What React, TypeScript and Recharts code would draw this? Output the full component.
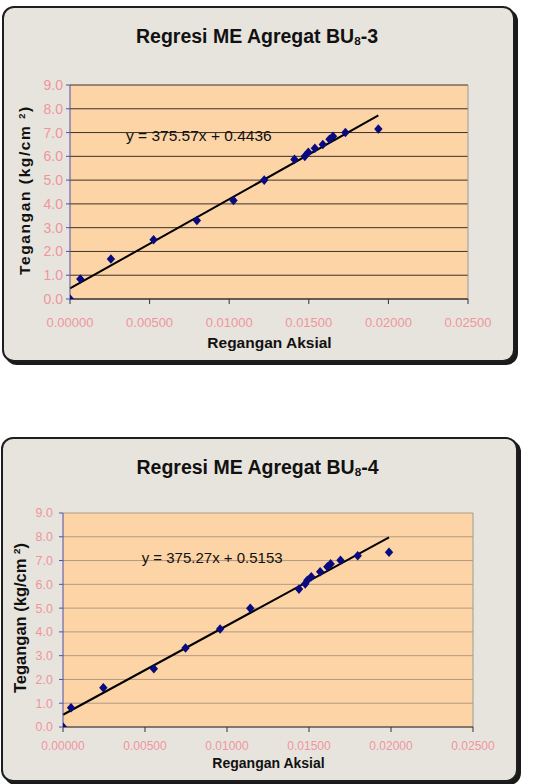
import React from 'react';
import { ScatterChart, Scatter, XAxis, YAxis, CartesianGrid, ReferenceLine } from 'recharts';

// ---- Data: chart 1 (BU8-3) ----
const strain1 = [0, 0.00065, 0.00257, 0.00525, 0.00797, 0.01027, 0.0122, 0.0141, 0.01475, 0.01497, 0.01538, 0.01588, 0.0163, 0.01652, 0.0173, 0.01937];
const stress1 = [0, 0.84, 1.68, 2.49, 3.30, 4.14, 5.00, 5.87, 6.00, 6.17, 6.34, 6.50, 6.72, 6.84, 7.00, 7.15];
const slope1 = 375.57;
const intercept1 = 0.4436;

// ---- Data: chart 2 (BU8-4) ----
const strain2 = [0, 0.00049, 0.00246, 0.00554, 0.00747, 0.00958, 0.01142, 0.01439, 0.01477, 0.0149, 0.01514, 0.01568, 0.01612, 0.01632, 0.01692, 0.01797, 0.01988];
const stress2 = [0, 0.81, 1.65, 2.45, 3.32, 4.12, 4.99, 5.80, 6.02, 6.17, 6.32, 6.53, 6.74, 6.86, 7.01, 7.20, 7.35];
const slope2 = 375.27;
const intercept2 = 0.5153;

// ---- Axis ticks ----
const xTicks = [0, 0.005, 0.01, 0.015, 0.02, 0.025];
const yTicks = [0, 1, 2, 3, 4, 5, 6, 7, 8, 9];

const FONT = '"Liberation Sans", Arial, sans-serif';
const PINK = '#f0959d';

const Diamond = (props: any) => {
  const { cx, cy } = props;
  if (cx == null || cy == null) return null;
  return <path d={`M${cx},${cy - 4.8}L${cx + 4.2},${cy}L${cx},${cy + 4.8}L${cx - 4.2},${cy}Z`} fill="#0a0a80" />;
};

type Cfg = {
  left: number; top: number; w: number; h: number;
  margin: { top: number; right: number; bottom: number; left: number };
  yAxisWidth: number; yTickMargin: number; xTickMargin: number;
  xTickFont: number; yTickFont: number;
  gridColor: string;
  titleSuffix: string; titleY: number; titleX: number; titleFont: number;
  yTitleX: number; yTitleY: number; yTitleFont: number; yTitleSpacing: number;
  xTitleX: number; xTitleY: number; xTitleFont: number;
  eqX: number; eqY: number; eqFont: number; eqText: string;
  strain: number[]; stress: number[]; slope: number; intercept: number;
};

const Panel = ({ c }: { c: Cfg }) => {
  const data = c.strain.map((x, i) => ({ x, y: c.stress[i] }));
  const xEnd = Math.max(...c.strain);
  return (
    <div style={{ position: 'absolute', left: c.left, top: c.top, width: c.w, height: c.h }}>
      <div style={{
        position: 'absolute', left: 0, top: 0, width: c.w, height: c.h, boxSizing: 'border-box',
        background: '#e7e4dd', border: '2px solid #1e1e1e', borderRadius: 12,
        boxShadow: '3px 3px 0px #1a1a1a',
      }} />
      <div style={{ position: 'absolute', left: 0, top: 0 }}>
        <ScatterChart width={c.w} height={c.h} margin={c.margin}>
          <CartesianGrid vertical={false} stroke={c.gridColor} fill="#fdd4a6" fillOpacity={1} />
          <XAxis
            type="number" dataKey="x" domain={[0, 0.025]} ticks={xTicks}
            tickFormatter={(v: number) => v.toFixed(5)}
            axisLine={{ stroke: '#333' }} tickLine={{ stroke: '#333' }} tickSize={5}
            tickMargin={c.xTickMargin} height={30}
            tick={{ fill: PINK, fontSize: c.xTickFont, fontFamily: FONT }}
            allowDataOverflow
          />
          <YAxis
            type="number" dataKey="y" domain={[0, 9]} ticks={yTicks}
            tickFormatter={(v: number) => v.toFixed(1)}
            axisLine={{ stroke: '#5050a8' }} tickLine={{ stroke: '#5050a8' }} tickSize={4}
            tickMargin={c.yTickMargin} width={c.yAxisWidth}
            tick={{ fill: PINK, fontSize: c.yTickFont, fontFamily: FONT }}
            allowDataOverflow
          />
          <ReferenceLine x={0.025} stroke="#9a9a9a" strokeWidth={1} />
          <ReferenceLine
            segment={[{ x: 0, y: c.intercept }, { x: xEnd, y: c.slope * xEnd + c.intercept }]}
            stroke="#000" strokeWidth={2} ifOverflow="visible"
          />
          <Scatter data={data} shape={Diamond} isAnimationActive={false} />
        </ScatterChart>
      </div>
      <div style={{
        position: 'absolute', left: c.titleX, top: c.titleY, transform: 'translate(-50%,-50%)',
        fontFamily: FONT, fontWeight: 'bold', fontSize: c.titleFont, color: '#111', whiteSpace: 'nowrap', lineHeight: 1,
      }}>
        Regresi ME Agregat BU<sub style={{ fontSize: '0.6em', verticalAlign: '-0.2em' }}>8</sub>{c.titleSuffix}
      </div>
      <div style={{
        position: 'absolute', left: c.yTitleX, top: c.yTitleY, transform: 'translate(-50%,-50%) rotate(-90deg)',
        fontFamily: FONT, fontWeight: 'bold', fontSize: c.yTitleFont, color: '#111', whiteSpace: 'nowrap',
        letterSpacing: c.yTitleSpacing, lineHeight: 1,
      }}>
        Tegangan (kg/cm <sup style={{ fontSize: '0.6em', verticalAlign: '0.6em' }}>2</sup>)
      </div>
      <div style={{
        position: 'absolute', left: c.xTitleX, top: c.xTitleY, transform: 'translate(-50%,-50%)',
        fontFamily: FONT, fontWeight: 'bold', fontSize: c.xTitleFont, color: '#111', whiteSpace: 'nowrap', lineHeight: 1,
      }}>
        Regangan Aksial
      </div>
      <div style={{
        position: 'absolute', left: c.eqX, top: c.eqY, transform: 'translateY(-50%)',
        fontFamily: FONT, fontSize: c.eqFont, color: '#111', whiteSpace: 'nowrap', lineHeight: 1,
      }}>
        {c.eqText}
      </div>
    </div>
  );
};

const cfg1: Cfg = {
  left: 2, top: 6, w: 513, h: 356,
  margin: { top: 79, right: 47, bottom: 33, left: 0 },
  yAxisWidth: 68, yTickMargin: 3, xTickMargin: 14, xTickFont: 13, yTickFont: 14,
  gridColor: '#3a3128',
  titleSuffix: '-3', titleX: 255, titleY: 31, titleFont: 19.5,
  yTitleX: 23, yTitleY: 184, yTitleFont: 15.5, yTitleSpacing: 1.6,
  xTitleX: 267.5, xTitleY: 337, xTitleFont: 15.5,
  eqX: 124, eqY: 130, eqFont: 15.5, eqText: 'y = 375.57x + 0.4436',
  strain: strain1, stress: stress1, slope: slope1, intercept: intercept1,
};

const cfg2: Cfg = {
  left: 1, top: 437, w: 517, h: 345,
  margin: { top: 76, right: 45, bottom: 25, left: 0 },
  yAxisWidth: 62, yTickMargin: 6, xTickMargin: 9, xTickFont: 12, yTickFont: 12.5,
  gridColor: '#b39a84',
  titleSuffix: '-4', titleX: 256.5, titleY: 31, titleFont: 19.5,
  yTitleX: 19, yTitleY: 181, yTitleFont: 16.5, yTitleSpacing: 0,
  xTitleX: 267.5, xTitleY: 326, xTitleFont: 14,
  eqX: 140.7, eqY: 120, eqFont: 15, eqText: 'y = 375.27x + 0.5153',
  strain: strain2, stress: stress2, slope: slope2, intercept: intercept2,
};

export default function App() {
  return (
    <div style={{ position: 'absolute', left: 0, top: 0, width: 548, height: 784, background: '#ffffff', overflow: 'hidden' }}>
      <Panel c={cfg1} />
      <Panel c={cfg2} />
    </div>
  );
}
